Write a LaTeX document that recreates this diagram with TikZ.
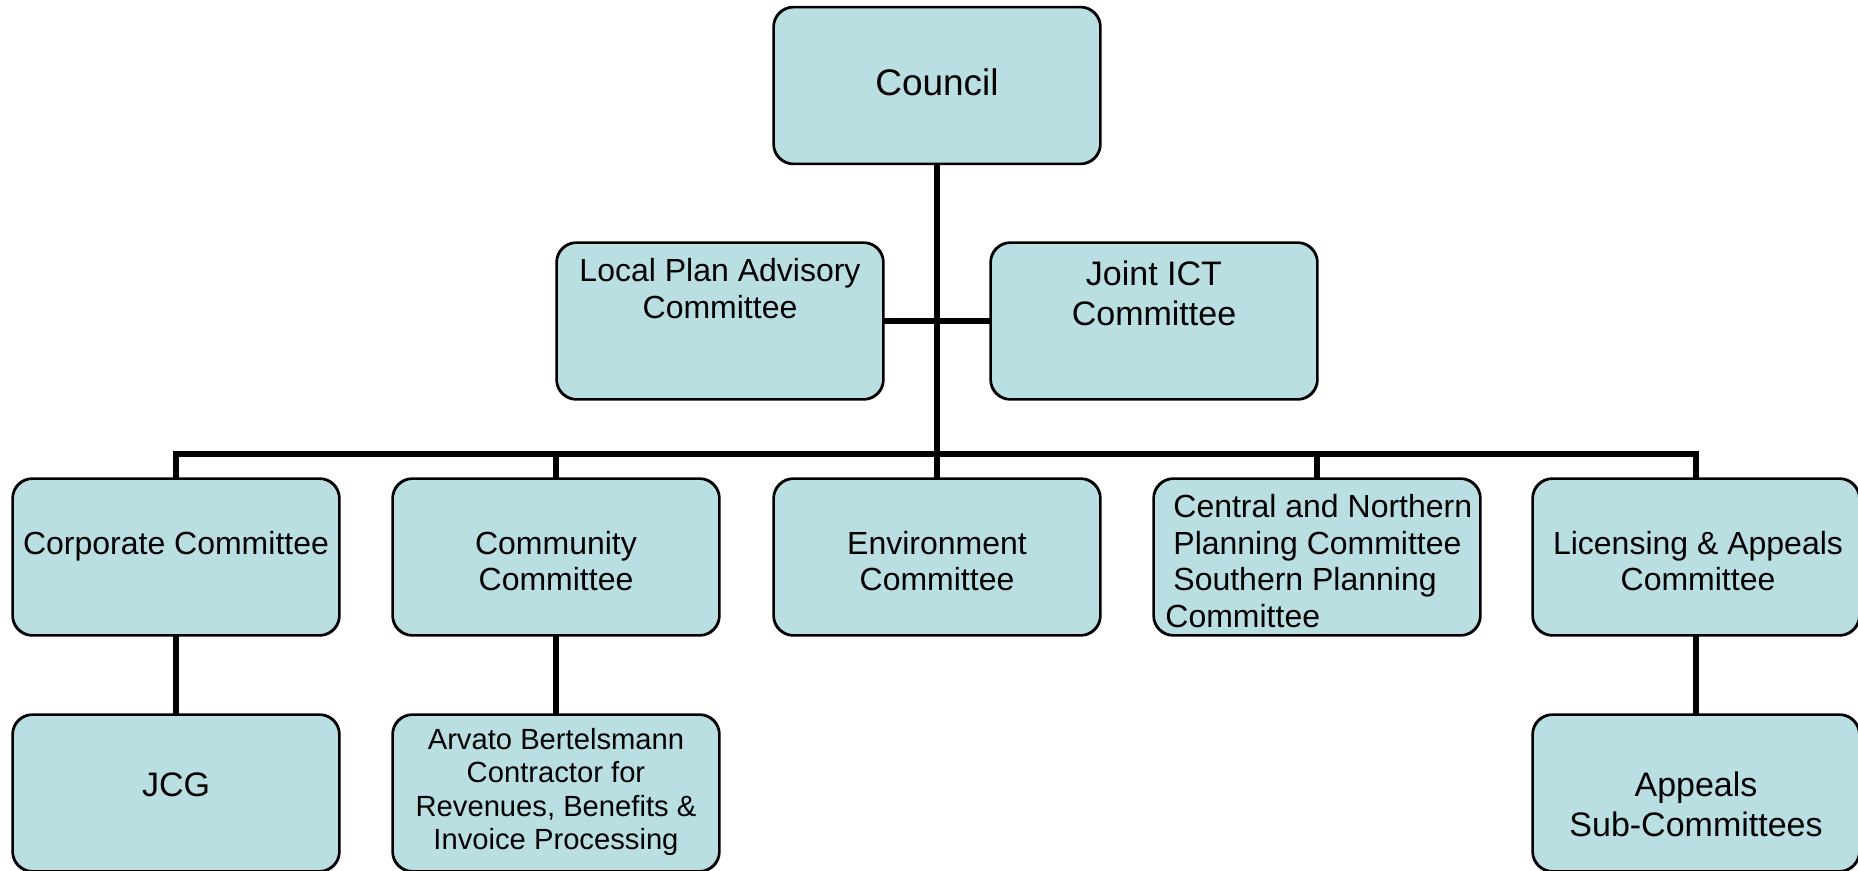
\documentclass[tikz,border=0pt]{standalone}
\usepackage{fontspec}
\setmainfont{Liberation Sans}
\definecolor{boxfill}{RGB}{186,223,227}
\tikzset{
  orgbox/.style={draw=black, line width=0.85pt, fill=boxfill, rounded corners=10pt,
    minimum width=163pt, minimum height=78pt, inner sep=0pt},
  conn/.style={draw=black, line width=2.8pt, line join=miter},
  lbl/.style={inner sep=0pt, align=center, text=black},
  fA/.style={font=\fontsize{18.5}{21}\selectfont},
  fB/.style={font=\fontsize{17}{20}\selectfont},
  fC/.style={font=\fontsize{16}{18.4}\selectfont},
  fD/.style={font=\fontsize{14.6}{16.8}\selectfont}
}
\begin{document}
\begin{tikzpicture}[x=0.5pt,y=-0.5pt]
\useasboundingbox (0,0) rectangle (1858,871);
% boxes
\node[orgbox] (council) at (937,85.5) {};
\node[orgbox] (lpa) at (720,321) {};
\node[orgbox] (jict) at (1154,321) {};
\node[orgbox] (corp) at (176,557) {};
\node[orgbox] (comm) at (556,557) {};
\node[orgbox] (env) at (937,557) {};
\node[orgbox] (cnp) at (1317,557) {};
\node[orgbox] (lic) at (1696,557) {};
\node[orgbox] (jcg) at (176,793) {};
\node[orgbox] (arv) at (556,793) {};
\node[orgbox] (app) at (1696,793) {};
% connectors
\coordinate (bus) at (937,454);
\draw[conn] (council.south) -- (env.north);
\draw[conn] (lpa.east) -- (jict.west);
\draw[conn] (bus) -| (corp.north);
\draw[conn] (bus) -| (comm.north);
\draw[conn] (bus) -| (cnp.north);
\draw[conn] (bus) -| (lic.north);
\draw[conn] (corp.south) -- (jcg.north);
\draw[conn] (comm.south) -- (arv.north);
\draw[conn] (lic.south) -- (app.north);
% redraw box outlines on top of connector ends
\foreach \n in {council,lpa,jict,corp,comm,env,cnp,lic,jcg,arv,app}{
  \draw[line width=0.85pt, rounded corners=10pt] (\n.south west) rectangle (\n.north east);
}
% texts
\node[lbl,fA] (tcouncil) at (937,82) {Council};
\node[lbl,fC] (tlpa) at (720,288.5) {Local Plan Advisory\\Committee};
\node[lbl,fB] (tjict) at (1154,293) {Joint ICT\\Committee};
\node[lbl,fC] (tcorp) at (176,546) {Corporate Committee};
\node[lbl,fC] (tcomm) at (556,561) {Community\\Committee};
\node[lbl,fC] (tenv) at (937,561) {Environment\\Committee};
\node[lbl,fC,align=left,anchor=west] (tcnp) at (1165,561) {\hspace{4pt}Central and Northern\\\hspace{4pt}Planning Committee\\\hspace{4pt}Southern Planning\\Committee};
\node[lbl,fC] (tlic) at (1698,561) {Licensing \& Appeals\\Committee};
\node[lbl,fB] (tjcg) at (176,785) {JCG};
\node[lbl,fD] (tarv) at (556,792) {Arvato Bertelsmann\\Contractor for\\Revenues, Benefits \&\\Invoice Processing};
\node[lbl,fB] (tapp) at (1696,804) {Appeals\\Sub-Committees};
\end{tikzpicture}
\end{document}
